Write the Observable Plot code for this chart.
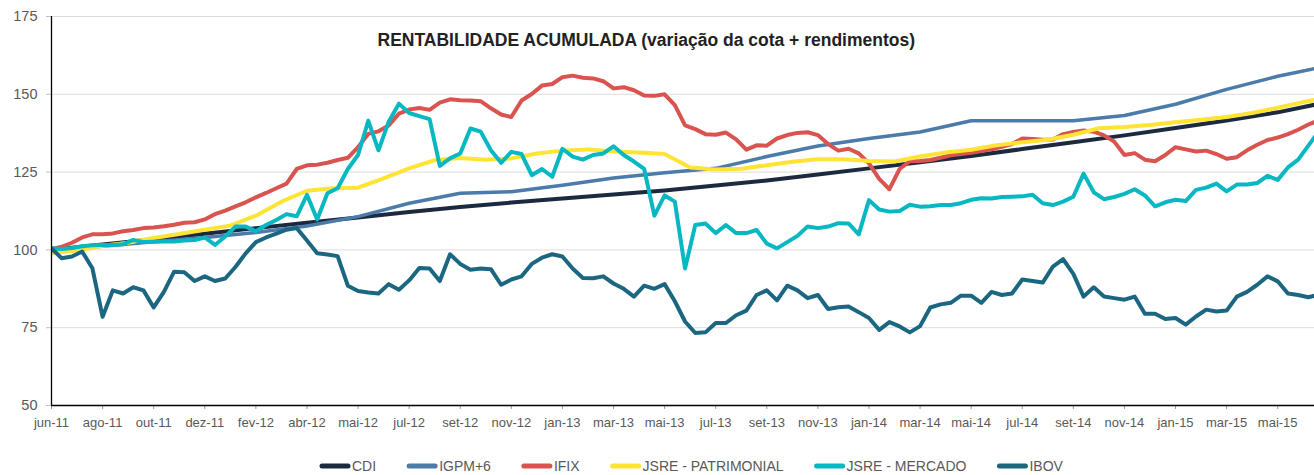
<!DOCTYPE html>
<html><head><meta charset="utf-8">
<script src="https://cdn.jsdelivr.net/npm/d3@7"></script>
<script src="https://cdn.jsdelivr.net/npm/@observablehq/plot@0.6"></script>
<style>
body{margin:0;background:#fff;font-family:"Liberation Sans",Arial,sans-serif;}
#chart{position:relative;width:1314px;height:475px;overflow:hidden;}
#legend{position:absolute;left:0;top:440px;width:1314px;height:35px;}
</style></head><body><div id="chart"></div>
<script>
// x-axis labels: one every 5 samples
const tickLabels = ["jun-11","ago-11","out-11","dez-11","fev-12","abr-12","mai-12","jul-12","set-12","nov-12","jan-13","mar-13","mai-13","jul-13","set-13","nov-13","jan-14","mar-14","mai-14","jul-14","set-14","nov-14","jan-15","mar-15","mai-15"];
const yTicks = [50, 75, 100, 125, 150, 175];
const seriesNames = ["CDI", "IGPM+6", "IFIX", "JSRE - PATRIMONIAL", "JSRE - MERCADO", "IBOV"];
const seriesColors = ["#1b2a3f", "#4a7bab", "#d9534f", "#ffe335", "#07b7c2", "#1b6782"];

// CDI and IGPM+6: one value per x-axis tick (every 5 samples)
const cdi = [100,101.7,103.4,105.2,107.0,108.7,110.4,112.2,113.8,115.2,116.5,117.8,119.1,120.7,122.3,124.2,126.2,128.2,130.2,132.4,134.6,136.8,139.2,141.6,144.2,147.6];
const igpm = [100,101.2,102.6,104.0,105.6,107.7,110.7,115.0,118.2,118.7,120.8,123.1,124.8,126.2,130.0,133.4,135.8,137.9,141.5,141.5,141.5,143.2,146.8,151.6,155.8,159.2];
// JSRE - PATRIMONIAL: one value every 2.5 samples
const patrimonial = [99.0,99.8,101.3,102.3,103.8,105.1,106.5,107.8,111.0,115.5,119.0,119.8,120.0,123.0,126.2,128.8,129.5,129.0,129.4,131.0,131.9,132.3,131.6,131.3,130.8,126.5,125.8,126.1,127.2,128.3,129.1,129.1,128.6,128.4,130.0,131.3,132.2,133.6,134.6,135.4,137.0,139.1,139.5,140.1,141.0,141.8,142.7,144.0,145.7,147.5,149.0];
// IFIX, JSRE - MERCADO, IBOV: one value per sample
const ifix = [100.2,101.0,102.3,104.0,105.0,105.0,105.3,106.0,106.4,107.0,107.2,107.6,108.1,108.7,108.9,109.8,111.5,112.6,114.0,115.3,116.9,118.3,119.8,121.3,126.0,127.2,127.4,128.0,128.9,129.6,133.0,137.3,138.1,140.0,143.8,145.1,145.6,145.0,147.3,148.4,148.1,148.0,147.8,145.5,143.5,142.7,148.0,150.1,152.8,153.3,155.5,156.0,155.3,155.1,154.2,151.9,152.3,151.3,149.6,149.5,150.0,146.5,140.0,138.8,137.2,137.0,137.7,135.5,132.2,133.6,133.5,135.8,136.9,137.6,137.8,136.9,134.0,131.9,132.5,131.0,127.8,122.8,119.5,126.0,128.5,128.6,128.9,129.6,130.4,130.8,131.2,131.8,132.3,133.1,134.0,135.8,135.6,135.4,135.5,137.2,137.9,138.4,138.0,136.8,134.8,130.5,131.1,129.0,128.5,130.5,133.0,132.3,131.6,131.9,130.8,129.3,129.8,132.0,133.8,135.3,136.1,137.2,138.6,140.3,141.6];
const mercado = [100.5,100.3,100.6,101.2,101.5,101.6,101.6,101.8,103.2,102.5,102.6,102.7,102.7,103.0,103.2,104.0,101.6,104.3,107.5,107.5,106.0,108.0,109.6,111.5,110.8,117.7,109.8,118.2,119.8,126.0,130.5,141.5,132.0,141.2,147.0,144.0,143.0,142.0,127.0,129.4,131.0,139.0,138.0,132.0,128.0,131.5,130.8,124.0,126.0,123.5,132.5,130.0,129.0,130.5,131.0,133.3,130.5,128.4,126.0,111.0,117.5,115.5,94.0,108.0,108.5,105.4,108.0,105.4,105.4,106.4,102.0,100.5,102.5,104.5,107.5,107.0,107.5,108.6,108.5,105.0,116.0,113.0,112.3,112.5,114.5,113.9,114.0,114.4,114.4,115.0,116.1,116.6,116.5,117.0,117.1,117.2,117.7,115.0,114.4,115.5,117.1,124.5,118.5,116.3,117.0,118.0,119.5,117.5,114.0,115.3,116.1,115.7,119.3,120.0,121.3,118.8,121.0,121.0,121.5,123.8,122.5,126.5,129.0,133.5,138.0];
const ibov = [100.5,97.3,97.9,99.5,94.1,78.5,87.0,86.0,88.0,87.0,81.5,86.5,93.0,92.8,90.0,91.5,90.0,90.8,94.5,98.9,102.5,104.0,105.2,106.5,107.0,103.0,98.9,98.5,98.0,88.5,86.8,86.3,86.0,89.0,87.2,90.2,94.2,94.0,90.0,98.6,95.5,93.6,94.0,93.8,88.8,90.5,91.5,95.5,97.5,98.6,97.9,94.0,91.0,90.9,91.5,89.2,87.5,85.0,88.5,87.5,89.0,83.5,77.0,73.3,73.5,76.5,76.5,79.0,80.5,85.5,87.0,83.8,88.5,87.0,84.5,85.5,81.0,81.6,81.8,80.0,78.1,74.3,76.8,75.4,73.5,75.5,81.5,82.5,83.0,85.3,85.3,83.0,86.5,85.5,86.0,90.5,90.0,89.5,94.6,97.0,92.3,85.0,88.0,85.0,84.5,84.0,85.0,79.5,79.5,77.8,78.1,76.0,78.6,80.8,80.2,80.5,85.0,86.5,88.8,91.5,89.9,86.0,85.5,84.8,85.6];

const seriesValues = [cdi, igpm, ifix, patrimonial, mercado, ibov];
const seriesSteps = [5, 5, 1, 2.5, 1, 1];
const seriesWidths = [4, 3.5, 4, 4, 4, 4];

const title = "RENTABILIDADE ACUMULADA (variação da cota + rendimentos)";

const lineMarks = seriesNames.map((name, s) => {
  const rows = seriesValues[s].map((v, i) => ({i: i * seriesSteps[s], v}));
  return Plot.line(rows, {x: "i", y: "v", stroke: seriesColors[s], strokeWidth: seriesWidths[s], strokeLinejoin: "round", strokeLinecap: "round", clip: true});
});

const chart = Plot.plot({
  width: 1314,
  height: 440,
  marginLeft: 51,
  marginRight: 0,
  marginTop: 16,
  marginBottom: 35,
  style: {fontFamily: "'Liberation Sans', Arial, sans-serif", background: "#fff", overflow: "visible"},
  x: {domain: [0, 123.6]},
  y: {domain: [50, 175]},
  marks: [
    Plot.gridY(yTicks, {stroke: "#dcdcdc", strokeOpacity: 1, strokeWidth: 1}),
    Plot.axisY(yTicks, {tickSize: 5, tickPadding: 9, stroke: "#bfbfbf", fill: "#595959", fontSize: 14.5, label: null}),
    Plot.axisX(d3.range(0, 121, 5), {tickSize: 4, tickPadding: 8, stroke: "#9a9a9a", fill: "#595959", fontSize: 13, label: null, tickFormat: d => tickLabels[d / 5]}),
    ...lineMarks,
    Plot.ruleX([0], {stroke: "#000", strokeWidth: 1.3}),
    Plot.ruleY([50], {stroke: "#000", strokeWidth: 1.3}),
    Plot.text([title], {frameAnchor: "top-left", dx: 326, dy: 17, textAnchor: "start", fontWeight: "bold", fontSize: 17.5, fill: "#222"})
  ]
});

const root = document.getElementById("chart");
root.appendChild(chart);

// legend below the plot
const legend = d3.select(root).append("div").attr("id", "legend");
const lsvg = legend.append("svg").attr("width", 1314).attr("height", 35)
  .style("font-family", "'Liberation Sans', Arial, sans-serif");
let lx = 320;
seriesNames.forEach((name, s) => {
  const g = lsvg.append("g").attr("transform", `translate(${lx},26)`);
  g.append("line").attr("x1", 2).attr("x2", 28).attr("y1", 0).attr("y2", 0)
    .attr("stroke", seriesColors[s]).attr("stroke-width", 5).attr("stroke-linecap", "round");
  const t = g.append("text").attr("x", 32).attr("y", 0).attr("dy", "0.35em")
    .attr("fill", "#595959").attr("font-size", 14).text(name);
  const w = t.node().getComputedTextLength();
  lx += 32 + w + 31;
});
</script></body></html>
